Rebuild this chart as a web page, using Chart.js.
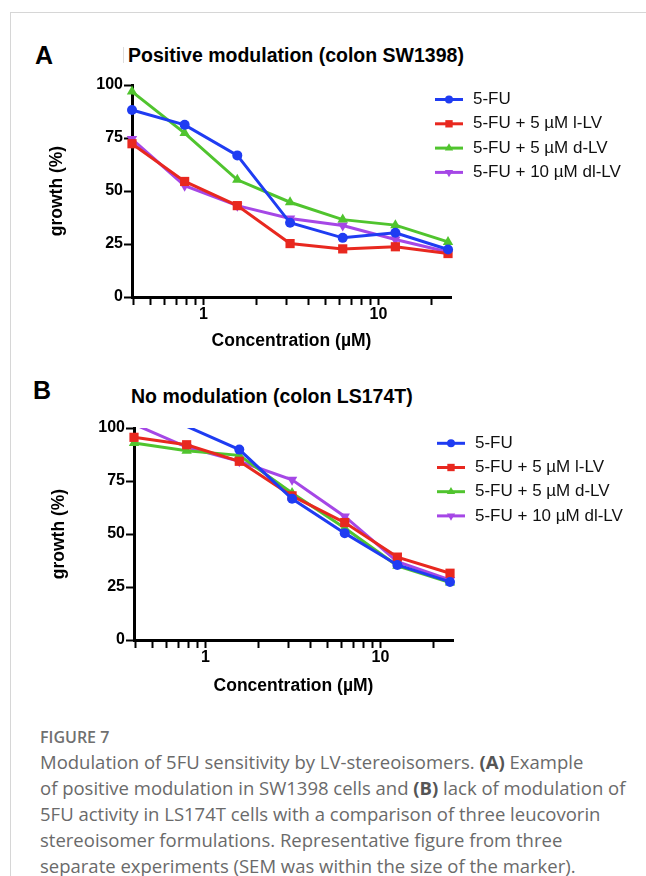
<!DOCTYPE html>
<html>
<head>
<meta charset="utf-8">
<script src="https://cdn.jsdelivr.net/npm/chart.js@4.4.1/dist/chart.umd.min.js"></script>
<style>
  body { margin: 0; width: 646px; height: 876px; background: #fff; position: relative; overflow: hidden;
         font-family: "Liberation Sans", Arial, sans-serif; }
  .frame { position: absolute; left: 10px; top: 12px; right: -2px; bottom: -2px;
           border-left: 1px solid #d6d6d6; border-top: 1px solid #d6d6d6; }
  canvas { position: absolute; left: 0; }
  .letter { position: absolute; font-weight: bold; font-size: 25px; line-height: 28px; color: #000; }
  .ptitle { position: absolute; font-weight: bold; font-size: 19.5px; line-height: 22px; white-space: nowrap; color: #000; }
  .bar { position: absolute; left: 123px; top: 47px; width: 1px; height: 16px; background: #ddd; }
  .fig { position: absolute; left: 40px; top: 727px; font-family: "Open Sans", sans-serif; font-size: 16px;
         line-height: 20px; color: #707070; font-weight: 600; }
  .cap { position: absolute; left: 40px; top: 749px; font-family: "Open Sans", sans-serif; font-size: 18.5px;
         line-height: 26px; color: #6a6a6a; white-space: nowrap; }
  .cap b { color: #555; }
</style>
</head>
<body>
<div class="frame"></div>

<div class="letter" style="left:35px; top:41px;">A</div>
<div class="bar"></div>
<div class="ptitle" style="left:128px; top:44px;">Positive modulation (colon SW1398)</div>
<canvas id="chartA" width="646" height="360" style="top:0px; width:646px; height:360px;"></canvas>

<div class="letter" style="left:33px; top:376px;">B</div>
<div class="ptitle" style="left:131px; top:385px;">No modulation (colon LS174T)</div>
<canvas id="chartB" width="646" height="350" style="top:360px; width:646px; height:350px;"></canvas>

<div class="fig">FIGURE 7</div>
<div class="cap">
Modulation of 5FU sensitivity by LV-stereoisomers. <b>(A)</b> Example<br>
of positive modulation in SW1398 cells and <b>(B)</b> lack of modulation of<br>
5FU activity in LS174T cells with a comparison of three leucovorin<br>
stereoisomer formulations. Representative figure from three<br>
separate experiments (SEM was within the size of the marker).
</div>

<script>
// concentrations (µM), log axis
const conc = [0.39, 0.78, 1.56, 3.125, 6.25, 12.5, 25];
const xTicks = [0.4, 0.5, 0.6, 0.7, 0.8, 0.9, 1, 2, 3, 4, 5, 6, 7, 8, 9, 10, 20];
const xLabels = [1, 10];
const yTicks = [0, 25, 50, 75, 100];

const seriesLabels = ['5-FU', '5-FU + 5 µM l-LV', '5-FU + 5 µM d-LV', '5-FU + 10 µM dl-LV'];

// A: positive modulation (colon SW1398)
const a5FU  = [88.2, 81.2, 66.8, 35.0, 27.9, 30.3, 22.4];
const aLLV  = [72.3, 54.5, 43.1, 25.2, 22.7, 23.7, 20.5];
const aDLV  = [96.9, 77.3, 55.3, 44.7, 36.5, 33.9, 26.0];
const aDLLV = [74.5, 52.5, 43.1, 37.0, 33.7, 27.1, 21.2];

// B: no modulation (colon LS174T) - first points run off the top of the axis
const b5FU  = [108.0, 100.8, 89.8, 66.6, 50.4, 35.4, 27.4];
const bLLV  = [95.6, 92.1, 84.3, 68.0, 55.4, 39.1, 31.5];
const bDLV  = [92.9, 89.3, 87.1, 69.3, 52.8, 35.0, 27.1];
const bDLLV = [101.8, 91.0, 84.3, 75.6, 58.3, 37.0, 28.3];

const colors = ['#1f3cf2', '#e8281f', '#50c42e', '#a547e6'];
const styles = ['circle', 'rect', 'triangle', 'triangle'];
const rotations = [0, 0, 0, 180];
const sizes = [5, 6.5, 6, 6];

const legendKey = {
  id: 'legendKey',
  afterDatasetsDraw(chart, args, opts) {
    const ctx = chart.ctx, area = chart.chartArea;
    chart.data.datasets.forEach((ds, i) => {
      const x = area.right + opts.dx, y = area.top + opts.dy + i * opts.gap;
      ctx.save();
      ctx.strokeStyle = ds.borderColor;
      ctx.fillStyle = ds.backgroundColor;
      ctx.lineWidth = 3;
      ctx.beginPath(); ctx.moveTo(x, y); ctx.lineTo(x + 28, y); ctx.stroke();
      Chart.helpers.drawPoint(ctx, {pointStyle: styles[i], rotation: rotations[i],
        radius: sizes[i] * 0.8, borderWidth: 0}, x + 14, y);
      ctx.fillStyle = '#111';
      ctx.font = '17px "Liberation Sans", Arial, sans-serif';
      ctx.textBaseline = 'middle';
      ctx.fillText(ds.label, x + 38, y);
      ctx.restore();
    });
  }
};

function makeSets(series) {
  return series.map((vals, i) => ({
    label: seriesLabels[i],
    data: conc.map((c, j) => ({x: c, y: vals[j]})),
    borderColor: colors[i],
    backgroundColor: colors[i],
    borderWidth: 3,
    pointStyle: styles[i],
    pointRotation: rotations[i],
    pointRadius: ctx => (ctx.raw && ctx.raw.y > 100) ? 0 : sizes[i],
    pointBorderWidth: 0,
    clip: {left: 10, right: 10, top: 0, bottom: 10},
    tension: 0
  }));
}

function makeChart(id, series, pad, xH, legendOpts) {
  const axisFont = {family: '"Liberation Sans", Arial, sans-serif', weight: 'bold', size: 16};
  const titleFont = {family: '"Liberation Sans", Arial, sans-serif', weight: 'bold', size: 17.5};
  return new Chart(document.getElementById(id), {
    type: 'line',
    data: {datasets: makeSets(series)},
    options: {
      responsive: false,
      animation: false,
      events: [],
      layout: {padding: pad},
      plugins: {legend: {display: false}, tooltip: {enabled: false}, legendKey: legendOpts},
      scales: {
        x: {
          type: 'logarithmic',
          min: 0.39, max: 26,
          afterBuildTicks: s => { s.ticks = xTicks.map(v => ({value: v})); },
          afterFit: s => { s.height = xH; },
          ticks: {
            autoSkip: false, maxRotation: 0, padding: 0, color: '#000', font: axisFont,
            callback: v => xLabels.includes(v) ? String(v) : ''
          },
          grid: {drawOnChartArea: false, drawTicks: true, tickLength: 8, tickWidth: 2, tickColor: '#000'},
          border: {display: true, color: '#000', width: 3},
          title: {display: true, text: 'Concentration (µM)', color: '#000', font: titleFont, padding: 0}
        },
        y: {
          min: 0, max: 100,
          afterBuildTicks: s => { s.ticks = yTicks.map(v => ({value: v})); },
          afterFit: s => { s.width = 85; },
          ticks: {padding: 1, color: '#000', font: axisFont},
          grid: {drawOnChartArea: false, drawTicks: true, tickLength: 8, tickWidth: 2, tickColor: '#000'},
          border: {display: true, color: '#000', width: 3},
          title: {display: true, text: 'growth (%)', color: '#000', font: titleFont, padding: 0}
        }
      }
    },
    plugins: [legendKey]
  });
}

makeChart('chartA', [a5FU, aLLV, aDLV, aDLLV],
  {left: 47, right: 195, top: 85, bottom: 8}, 55, {dx: -16, dy: 14.5, gap: 24.3});
makeChart('chartB', [b5FU, bLLV, bDLV, bDLLV],
  {left: 49, right: 193, top: 68, bottom: 13}, 57, {dx: -16, dy: 15.3, gap: 24.2});
</script>
</body>
</html>
